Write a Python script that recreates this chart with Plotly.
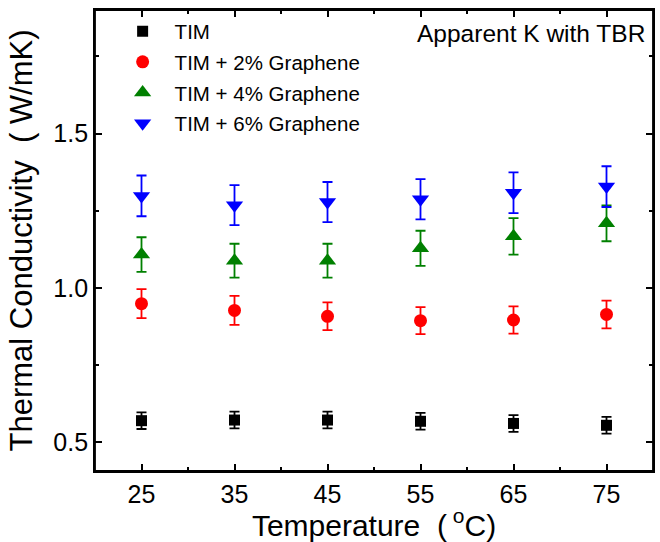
import plotly.graph_objects as go

temperature = [25, 35, 45, 55, 65, 75]

series_names = ["TIM", "TIM + 2% Graphene", "TIM + 4% Graphene", "TIM + 6% Graphene"]

k_tim = [0.570, 0.572, 0.572, 0.568, 0.561, 0.555]
err_tim = [0.027, 0.027, 0.027, 0.027, 0.027, 0.027]

k_2pct = [0.949, 0.927, 0.908, 0.894, 0.896, 0.914]
err_2pct = [0.047, 0.047, 0.045, 0.044, 0.044, 0.045]

k_4pct = [1.108, 1.088, 1.088, 1.128, 1.167, 1.209]
err_4pct = [0.056, 0.055, 0.055, 0.057, 0.059, 0.058]

k_6pct = [1.298, 1.268, 1.278, 1.287, 1.308, 1.328]
err_6pct = [0.066, 0.065, 0.065, 0.065, 0.066, 0.066]

x_ticks = [25, 35, 45, 55, 65, 75]
y_ticks = [0.5, 1.0, 1.5]
y_tick_labels = ["0.5", "1.0", "1.5"]

colors = ["#000000", "#ff0000", "#008000", "#0000ff"]
symbols = ["square", "circle", "triangle-up", "triangle-down"]
sizes = [11, 13, 15, 15]

values = [k_tim, k_2pct, k_4pct, k_6pct]
errors = [err_tim, err_2pct, err_4pct, err_6pct]

FONT = "Liberation Sans, Arial, sans-serif"

fig = go.Figure()
for i, name in enumerate(series_names):
    fig.add_trace(go.Scatter(
        x=temperature, y=values[i], mode="markers", name=name,
        legendgroup=name,
        marker=dict(symbol=symbols[i], size=sizes[i], color=colors[i], line=dict(width=0)),
        error_y=dict(type="data", array=errors[i], visible=True, color=colors[i],
                     thickness=1.8, width=5),
    ))

axis_common = dict(
    showline=True, linecolor="black", linewidth=1.8, mirror="ticks",
    ticks="inside", ticklen=7, tickwidth=1.8, tickcolor="black",
    showgrid=False, zeroline=False,
    tickfont=dict(family=FONT, size=25, color="black"),
)

fig.update_xaxes(
    range=[20, 80], tickvals=x_ticks,
    minor=dict(ticks="inside", ticklen=4, tickwidth=1.5, tickcolor="black", dtick=10, tick0=20, showgrid=False),
    title=dict(text="Temperature  (<sup> o</sup>C)", font=dict(family=FONT, size=30, color="black"), standoff=7),
    **axis_common,
)
fig.update_yaxes(
    range=[0.407, 1.9], tickvals=y_ticks, ticktext=y_tick_labels,
    minor=dict(ticks="inside", ticklen=4, tickwidth=1.5, tickcolor="black", dtick=0.25, tick0=0.25, showgrid=False),
    title=dict(text="Thermal Conductivity  ( W/mK)", font=dict(family=FONT, size=31, color="black"), standoff=11),
    **axis_common,
)

# frame around the plot area
fig.add_shape(type="rect", xref="paper", yref="paper", x0=0, y0=0, x1=1, y1=1,
              line=dict(color="black", width=1.8), layer="above")

fig.add_annotation(
    text="Apparent K with TBR", xref="paper", yref="paper", x=0.99, y=0.948,
    xanchor="right", yanchor="middle", showarrow=False,
    font=dict(family=FONT, size=24.5, color="black"),
)

fig.update_layout(
    width=660, height=542,
    margin=dict(l=95, r=5, t=10, b=71),
    paper_bgcolor="white", plot_bgcolor="white",
    showlegend=True,
    legend=dict(
        x=0.028, y=0.997, xanchor="left", yanchor="top",
        bgcolor="rgba(0,0,0,0)", borderwidth=0,
        font=dict(family=FONT, size=20.5, color="black"),
        itemwidth=54, traceorder="grouped", tracegroupgap=1,
    ),
)

# remove the default 8px page margin so the 660x542 figure fills the window exactly;
# hide the modebar so it does not cover the chart
fig.write_html(
    "out.html",
    config={"displayModeBar": False},
    post_script="document.body.style.margin='0';document.documentElement.style.overflow='hidden';",
)
